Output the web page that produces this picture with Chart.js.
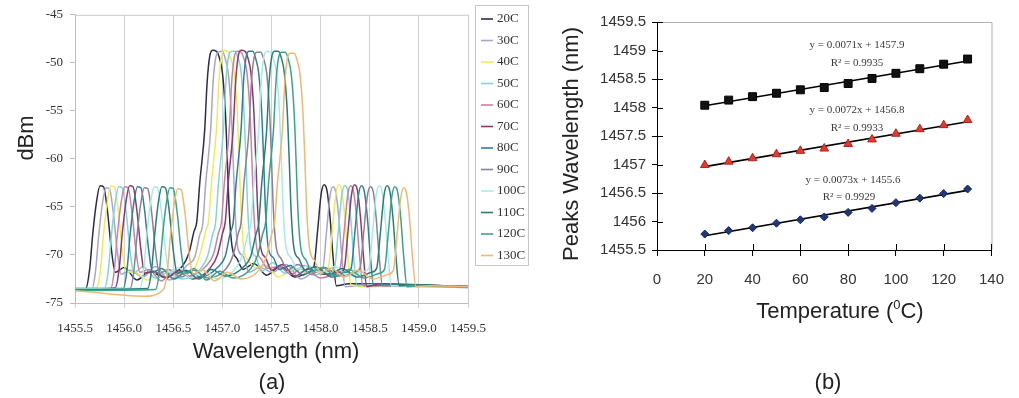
<!DOCTYPE html>
<html><head><meta charset="utf-8">
<script src="https://cdn.jsdelivr.net/npm/chart.js@4.4.1/dist/chart.umd.min.js"></script>
<style>
html,body{margin:0;padding:0;background:#fff;width:1019px;height:398px;overflow:hidden}
#wa{position:absolute;left:0;top:0;width:540px;height:398px}
#wb{position:absolute;left:540px;top:0;width:479px;height:398px}
</style></head><body>
<div id="wa"><canvas id="ca" width="540" height="398"></canvas></div>
<div id="wb"><canvas id="cb" width="479" height="398"></canvas></div>
<script>
// ---------- Panel (b) data ----------
const temps = [20,30,40,50,60,70,80,90,100,110,120,130];
const tempLabels = ['20C','30C','40C','50C','60C','70C','80C','90C','100C','110C','120C','130C'];
const peakShort = [1455.78,1455.84,1455.89,1455.97,1456.03,1456.08,1456.16,1456.23,1456.33,1456.41,1456.49,1456.57];
const peakMain  = [1456.99,1457.05,1457.11,1457.18,1457.24,1457.28,1457.36,1457.44,1457.54,1457.62,1457.69,1457.78];
const peakLong  = [1458.04,1458.13,1458.19,1458.25,1458.31,1458.35,1458.42,1458.51,1458.60,1458.68,1458.76,1458.85];
const eqLong  = ['y = 0.0071x + 1457.9','R\u00B2 = 0.9935'];
const eqMain  = ['y = 0.0072x + 1456.8','R\u00B2 = 0.9933'];
const eqShort = ['y = 0.0073x + 1455.6','R\u00B2 = 0.9929'];

// ---------- Panel (a) spectra (wavelength nm, power dBm) ----------
const wl20 = [1455.5,1455.61,1455.65,1455.68,1455.72,1455.755,1455.79,1455.83,1455.87,1455.91,1456.00,1456.13,1456.26,1456.40,1456.59,1456.66,1456.71,1456.74,1456.77,1456.82,1456.845,1456.87,1456.90,1456.94,1456.97,1457.00,1457.03,1457.05,1457.07,1457.10,1457.15,1457.21,1457.32,1457.45,1457.59,1457.74,1457.88,1457.93,1457.97,1458.005,1458.035,1458.065,1458.095,1458.125,1458.16,1458.29,1459.5];
const db20 = [-73.6,-73.5,-71.4,-67.9,-64.4,-62.8,-62.9,-65.4,-69.4,-71.8,-71.3,-72.6,-71.7,-72.3,-71.2,-69.8,-67.6,-66.5,-62.5,-57.0,-52.0,-49.4,-48.7,-48.8,-49.5,-51.0,-55.0,-60.0,-65.5,-69.2,-70.4,-71.5,-70.9,-72.1,-71.2,-72.3,-71.8,-71.3,-67.4,-63.7,-62.7,-63.3,-66.0,-70.0,-73.2,-73.0,-73.3];
const wl30 = [1455.5,1455.67,1455.71,1455.74,1455.78,1455.815,1455.85,1455.89,1455.93,1455.97,1456.06,1456.19,1456.32,1456.46,1456.65,1456.72,1456.77,1456.80,1456.83,1456.88,1456.905,1456.93,1456.96,1457.00,1457.03,1457.06,1457.09,1457.11,1457.13,1457.16,1457.21,1457.27,1457.38,1457.51,1457.65,1457.80,1457.97,1458.02,1458.06,1458.095,1458.125,1458.155,1458.185,1458.215,1458.25,1458.38,1459.5];
const db30 = [-73.5,-73.6,-71.6,-68.1,-64.6,-63.0,-63.1,-65.6,-69.6,-72.0,-71.6,-72.3,-71.2,-72.6,-71.0,-70.2,-67.9,-66.8,-62.6,-57.1,-52.1,-49.6,-48.9,-48.8,-49.6,-51.1,-55.1,-60.2,-65.6,-69.4,-70.1,-71.8,-71.3,-71.8,-71.0,-72.5,-71.6,-71.5,-67.6,-63.9,-62.9,-63.5,-66.1,-70.1,-73.3,-73.2,-73.4];
const wl40 = [1455.5,1455.72,1455.76,1455.79,1455.83,1455.865,1455.90,1455.94,1455.98,1456.02,1456.11,1456.24,1456.37,1456.51,1456.71,1456.78,1456.83,1456.86,1456.89,1456.94,1456.965,1456.99,1457.02,1457.06,1457.09,1457.12,1457.15,1457.17,1457.19,1457.22,1457.27,1457.33,1457.44,1457.57,1457.71,1457.86,1458.03,1458.08,1458.12,1458.155,1458.185,1458.215,1458.245,1458.275,1458.31,1458.44,1459.5];
const db40 = [-73.7,-73.4,-71.5,-67.9,-64.4,-62.8,-62.9,-65.4,-69.4,-71.7,-71.8,-72.6,-71.4,-72.0,-71.5,-69.6,-67.5,-66.4,-62.4,-56.9,-51.9,-49.4,-48.7,-48.9,-49.7,-51.0,-54.8,-59.9,-65.4,-69.5,-70.6,-71.3,-71.1,-72.3,-71.5,-71.9,-72.0,-71.2,-67.3,-63.7,-62.7,-63.4,-65.9,-69.9,-73.1,-73.3,-73.2];
const wl50 = [1455.5,1455.80,1455.84,1455.87,1455.91,1455.945,1455.98,1456.02,1456.06,1456.10,1456.19,1456.32,1456.45,1456.59,1456.78,1456.85,1456.90,1456.93,1456.96,1457.01,1457.035,1457.06,1457.09,1457.13,1457.16,1457.19,1457.22,1457.24,1457.26,1457.29,1457.34,1457.40,1457.51,1457.64,1457.78,1457.93,1458.09,1458.14,1458.18,1458.215,1458.245,1458.275,1458.305,1458.335,1458.37,1458.50,1459.5];
const db50 = [-73.5,-73.5,-71.5,-68.0,-64.5,-62.9,-63.0,-65.5,-69.5,-71.9,-71.2,-72.4,-71.8,-72.5,-71.4,-70.1,-67.9,-66.7,-62.6,-57.0,-52.1,-49.5,-48.8,-48.8,-49.5,-50.9,-55.1,-60.1,-65.6,-69.3,-70.2,-71.7,-70.8,-71.9,-71.4,-72.1,-71.7,-71.4,-67.5,-63.8,-62.8,-63.3,-66.0,-70.1,-73.2,-73.1,-73.3];
const wl60 = [1455.5,1455.86,1455.90,1455.93,1455.97,1456.005,1456.04,1456.08,1456.12,1456.16,1456.25,1456.38,1456.51,1456.65,1456.84,1456.91,1456.96,1456.99,1457.02,1457.07,1457.095,1457.12,1457.15,1457.19,1457.22,1457.25,1457.28,1457.30,1457.32,1457.35,1457.40,1457.46,1457.57,1457.70,1457.84,1457.99,1458.15,1458.20,1458.24,1458.275,1458.305,1458.335,1458.365,1458.395,1458.43,1458.56,1459.5];
const db60 = [-73.6,-73.6,-71.6,-68.0,-64.5,-62.9,-63.0,-65.6,-69.5,-71.8,-71.5,-72.7,-71.5,-72.2,-71.1,-69.9,-67.7,-66.6,-62.5,-57.0,-52.0,-49.5,-48.8,-48.9,-49.6,-51.0,-55.0,-60.0,-65.5,-69.3,-70.5,-71.4,-71.2,-72.0,-71.1,-72.4,-71.9,-71.3,-67.5,-63.8,-62.8,-63.4,-66.0,-70.0,-73.2,-73.2,-73.2];
const wl70 = [1455.5,1455.91,1455.95,1455.98,1456.02,1456.055,1456.09,1456.13,1456.17,1456.21,1456.30,1456.43,1456.56,1456.70,1456.88,1456.95,1457.00,1457.03,1457.06,1457.11,1457.135,1457.16,1457.19,1457.23,1457.26,1457.29,1457.32,1457.34,1457.36,1457.39,1457.44,1457.50,1457.61,1457.74,1457.88,1458.03,1458.19,1458.24,1458.28,1458.315,1458.345,1458.375,1458.405,1458.435,1458.47,1458.60,1459.5];
const db70 = [-73.6,-73.4,-71.4,-67.9,-64.4,-62.8,-62.9,-65.4,-69.4,-71.9,-71.7,-72.4,-71.6,-72.5,-71.3,-70.0,-67.8,-66.5,-62.4,-56.9,-52.0,-49.4,-48.7,-48.8,-49.5,-51.0,-55.0,-60.0,-65.4,-69.2,-70.3,-71.6,-71.0,-72.2,-71.4,-72.0,-71.8,-71.4,-67.4,-63.7,-62.7,-63.3,-66.0,-70.0,-73.3,-73.0,-73.3];
const wl80 = [1455.5,1455.99,1456.03,1456.06,1456.10,1456.135,1456.17,1456.21,1456.25,1456.29,1456.38,1456.51,1456.64,1456.78,1456.96,1457.03,1457.08,1457.11,1457.14,1457.19,1457.215,1457.24,1457.27,1457.31,1457.34,1457.37,1457.40,1457.42,1457.44,1457.47,1457.52,1457.58,1457.69,1457.82,1457.96,1458.11,1458.26,1458.31,1458.35,1458.385,1458.415,1458.445,1458.475,1458.505,1458.54,1458.67,1459.5];
const db80 = [-73.5,-73.5,-71.5,-68.0,-64.5,-62.9,-63.0,-65.5,-69.5,-71.8,-71.4,-72.5,-71.7,-72.3,-71.2,-70.1,-67.7,-66.6,-62.5,-57.0,-52.0,-49.5,-48.8,-48.8,-49.6,-51.1,-55.1,-60.1,-65.6,-69.4,-70.3,-71.5,-71.1,-72.1,-71.3,-72.3,-71.8,-71.4,-67.5,-63.8,-62.8,-63.4,-66.0,-70.0,-73.2,-73.1,-73.3];
const wl90 = [1455.5,1456.06,1456.10,1456.13,1456.17,1456.205,1456.24,1456.28,1456.32,1456.36,1456.45,1456.58,1456.71,1456.85,1457.04,1457.11,1457.16,1457.19,1457.22,1457.27,1457.295,1457.32,1457.35,1457.39,1457.42,1457.45,1457.48,1457.50,1457.52,1457.55,1457.60,1457.66,1457.77,1457.90,1458.04,1458.19,1458.35,1458.40,1458.44,1458.475,1458.505,1458.535,1458.565,1458.595,1458.63,1458.76,1459.5];
const db90 = [-73.6,-73.5,-71.6,-68.1,-64.6,-63.0,-63.1,-65.6,-69.6,-71.9,-71.5,-72.3,-71.6,-72.4,-71.4,-70.0,-67.8,-66.6,-62.5,-57.1,-52.1,-49.6,-48.9,-48.9,-49.6,-51.0,-55.0,-60.0,-65.5,-69.3,-70.4,-71.6,-71.0,-72.0,-71.3,-72.2,-71.8,-71.4,-67.5,-63.9,-62.9,-63.4,-66.1,-70.1,-73.2,-73.2,-73.3];
const wl100 = [1455.5,1456.16,1456.20,1456.23,1456.27,1456.305,1456.34,1456.38,1456.42,1456.46,1456.55,1456.68,1456.81,1456.95,1457.14,1457.21,1457.26,1457.29,1457.32,1457.37,1457.395,1457.42,1457.45,1457.49,1457.52,1457.55,1457.58,1457.60,1457.62,1457.65,1457.70,1457.76,1457.87,1458.00,1458.14,1458.29,1458.44,1458.49,1458.53,1458.565,1458.595,1458.625,1458.655,1458.685,1458.72,1458.85,1459.5];
const db100 = [-73.5,-73.5,-71.5,-68.0,-64.5,-62.9,-63.0,-65.5,-69.5,-71.8,-71.3,-72.4,-71.6,-72.5,-71.3,-69.9,-67.8,-66.7,-62.5,-57.0,-52.0,-49.5,-48.8,-48.9,-49.6,-51.0,-55.0,-60.0,-65.5,-69.3,-70.3,-71.5,-71.1,-71.9,-71.2,-72.2,-71.7,-71.4,-67.5,-63.8,-62.8,-63.4,-66.0,-70.0,-73.2,-73.2,-73.3];
const wl110 = [1455.5,1456.24,1456.28,1456.31,1456.35,1456.385,1456.42,1456.46,1456.50,1456.54,1456.63,1456.76,1456.89,1457.03,1457.22,1457.29,1457.34,1457.37,1457.40,1457.45,1457.475,1457.50,1457.53,1457.57,1457.60,1457.63,1457.66,1457.68,1457.70,1457.73,1457.78,1457.84,1457.95,1458.08,1458.22,1458.37,1458.52,1458.57,1458.61,1458.645,1458.675,1458.705,1458.735,1458.765,1458.80,1458.93,1459.5];
const db110 = [-73.6,-73.5,-71.5,-68.0,-64.4,-62.9,-63.0,-65.5,-69.5,-71.9,-71.6,-72.5,-71.5,-72.2,-71.2,-70.1,-67.9,-66.7,-62.6,-57.1,-52.1,-49.5,-48.8,-48.8,-49.5,-51.0,-55.0,-60.0,-65.5,-69.4,-70.4,-71.6,-71.2,-72.1,-71.4,-72.3,-71.8,-71.4,-67.5,-63.8,-62.8,-63.4,-66.0,-70.0,-73.2,-73.1,-73.3];
const wl120 = [1455.5,1456.32,1456.36,1456.39,1456.43,1456.465,1456.50,1456.54,1456.58,1456.62,1456.71,1456.84,1456.97,1457.11,1457.29,1457.36,1457.41,1457.44,1457.47,1457.52,1457.545,1457.57,1457.60,1457.64,1457.67,1457.70,1457.73,1457.75,1457.77,1457.80,1457.85,1457.91,1458.02,1458.15,1458.29,1458.44,1458.60,1458.65,1458.69,1458.725,1458.755,1458.785,1458.815,1458.845,1458.88,1459.01,1459.5];
const db120 = [-73.7,-73.6,-71.6,-68.1,-64.6,-63.0,-63.1,-65.6,-69.6,-71.9,-71.4,-72.6,-71.7,-72.4,-71.4,-70.0,-67.8,-66.6,-62.5,-57.0,-52.1,-49.6,-48.9,-48.9,-49.6,-51.1,-55.1,-60.1,-65.6,-69.4,-70.5,-71.7,-71.3,-72.2,-71.5,-72.4,-71.9,-71.5,-67.6,-63.9,-62.9,-63.5,-66.1,-70.1,-73.3,-73.2,-73.3];
const wl130 = [1455.5,1456.20,1456.40,1456.44,1456.47,1456.51,1456.545,1456.58,1456.62,1456.66,1456.70,1456.79,1456.92,1457.05,1457.19,1457.38,1457.45,1457.50,1457.53,1457.56,1457.61,1457.635,1457.66,1457.69,1457.73,1457.76,1457.79,1457.82,1457.84,1457.86,1457.89,1457.94,1458.00,1458.11,1458.24,1458.38,1458.53,1458.69,1458.74,1458.78,1458.815,1458.845,1458.875,1458.905,1458.935,1458.97,1459.10,1459.5];
const db130 = [-73.7,-74.3,-73.6,-71.7,-68.2,-64.7,-63.1,-63.2,-65.7,-69.7,-72.0,-71.5,-72.7,-71.8,-72.5,-71.5,-70.1,-67.9,-66.7,-62.6,-57.1,-52.1,-49.6,-49.0,-49.0,-49.7,-51.2,-55.2,-60.2,-65.7,-69.5,-70.6,-71.8,-71.4,-72.3,-71.6,-72.5,-72.0,-71.6,-67.7,-64.1,-63.0,-63.6,-66.2,-70.2,-73.3,-73.2,-73.3];

const spectraWl = [wl20,wl30,wl40,wl50,wl60,wl70,wl80,wl90,wl100,wl110,wl120,wl130];
const spectraDb = [db20,db30,db40,db50,db60,db70,db80,db90,db100,db110,db120,db130];
const specColors = ['#2a2c48','#aaa4c8','#ecec58','#80d6d6','#cc80a6','#8a3a68','#2e7ea0','#8a8098','#a6eaea','#2c7c78','#3aa486','#f0b870'];

// ---------- Panel (a) ----------
const panelA = {
  id:'panelA',
  afterDraw(chart){
    const {ctx, chartArea:a} = chart;
    ctx.save();
    ctx.strokeStyle='#cacaca'; ctx.lineWidth=1;
    ctx.beginPath(); ctx.moveTo(a.left, a.top+0.5); ctx.lineTo(a.right+0.5, a.top+0.5); ctx.lineTo(a.right+0.5, a.bottom); ctx.stroke();
    ctx.strokeStyle='#c6c6c6';
    ctx.strokeRect(475.5,5.5,53,260);
    ctx.font='13px "Liberation Serif"'; ctx.textBaseline='middle'; ctx.textAlign='left'; ctx.fillStyle='#333';
    tempLabels.forEach((t,i)=>{
      const y = 19 + i*21.5;
      ctx.strokeStyle=specColors[i]; ctx.lineWidth=1.6;
      ctx.beginPath(); ctx.moveTo(481,y); ctx.lineTo(493,y); ctx.stroke();
      ctx.fillText(t,497,y);
    });
    ctx.font='22px "Liberation Sans"'; ctx.fillStyle='#222'; ctx.textAlign='center';
    ctx.fillText('Wavelength (nm)', 276, 352);
    ctx.fillText('(a)', 272, 383);
    ctx.translate(27,138); ctx.rotate(-Math.PI/2); ctx.fillText('dBm',0,0);
    ctx.restore();
  }
};

new Chart(document.getElementById('ca'), {
  type:'line',
  data:{ datasets: spectraWl.map((wl,k)=>({
    label: tempLabels[k],
    data: wl.map((x,i)=>({x:x, y:spectraDb[k][i]})),
    borderColor: specColors[k], borderWidth:1.5, pointRadius:0,
    cubicInterpolationMode:'monotone', fill:false, order: 12-k
  }))},
  options:{
    responsive:false, animation:false, events:[],
    layout:{padding:{left:0,right:72,top:11,bottom:0}},
    plugins:{legend:{display:false}, tooltip:{enabled:false}},
    scales:{
      x:{type:'linear', min:1455.5, max:1459.5,
         ticks:{stepSize:0.5, autoSkip:false, maxRotation:0, callback:v=>Number(v).toFixed(1),
                font:{family:'"Liberation Serif"', size:13}, color:'#333', padding:13},
         grid:{color:'#d2d2d2', lineWidth:1, tickLength:5}, border:{color:'#bdbdbd'},
         afterFit:s=>{s.height=95;}},
      y:{type:'linear', min:-75, max:-45,
         ticks:{stepSize:5, font:{family:'"Liberation Serif"', size:13}, color:'#333', padding:7},
         grid:{drawOnChartArea:false, tickLength:5, color:'#bdbdbd'}, border:{color:'#bdbdbd'},
         afterFit:s=>{s.width=75;}}
    }
  },
  plugins:[panelA]
});

// ---------- Panel (b) ----------
function fit(xs, ys){
  const n=xs.length; let sx=0,sy=0,sxx=0,sxy=0;
  for(let i=0;i<n;i++){sx+=xs[i];sy+=ys[i];sxx+=xs[i]*xs[i];sxy+=xs[i]*ys[i];}
  const b=(n*sxy-sx*sy)/(n*sxx-sx*sx); const a=(sy-b*sx)/n;
  return t=>a+b*t;
}
const seriesB = [
  {vals:peakLong,  style:'rect',     r:5.6, bg:'#111111', bd:'#000000'},
  {vals:peakMain,  style:'triangle', r:5,   bg:'#e23a2e', bd:'#b52019'},
  {vals:peakShort, style:'rectRot',  r:4,   bg:'#22377a', bd:'#142559'}
];
const dsB = [];
seriesB.forEach(s=>{
  const f = fit(temps, s.vals);
  dsB.push({data:[{x:temps[0],y:f(temps[0])},{x:temps[temps.length-1],y:f(temps[temps.length-1])}],
            showLine:true, borderColor:'#000', borderWidth:1.6, pointRadius:0, order:2});
  dsB.push({data:temps.map((t,i)=>({x:t,y:s.vals[i]})), showLine:false,
            pointStyle:s.style, pointRadius:s.r, backgroundColor:s.bg, borderColor:s.bd, borderWidth:1, order:1});
});

const panelB = {
  id:'panelB',
  afterDraw(chart){
    const {ctx, chartArea:a, scales} = chart;
    ctx.save();
    ctx.strokeStyle='#b4b4b4'; ctx.lineWidth=1;
    ctx.beginPath(); ctx.moveTo(a.left, a.top+0.5); ctx.lineTo(a.right+0.5, a.top+0.5); ctx.lineTo(a.right+0.5, a.bottom); ctx.stroke();
    ctx.strokeStyle='#000';
    ctx.beginPath();
    scales.x.ticks.forEach(t=>{ const px=Math.round(scales.x.getPixelForValue(t.value))+0.5; if(px>a.left+2){ctx.moveTo(px,a.bottom); ctx.lineTo(px,a.bottom-6);} });
    scales.y.ticks.forEach(t=>{ const py=Math.round(scales.y.getPixelForValue(t.value))+0.5; ctx.moveTo(a.left,py); ctx.lineTo(a.left+6,py); });
    ctx.stroke();
    ctx.font='11px "Liberation Serif"'; ctx.fillStyle='#3a3a3a'; ctx.textAlign='center'; ctx.textBaseline='middle';
    ctx.fillText(eqLong[0], 317, 45);  ctx.fillText(eqLong[1], 317, 63);
    ctx.fillText(eqMain[0], 317, 110); ctx.fillText(eqMain[1], 317, 128);
    ctx.fillText(eqShort[0], 313, 180); ctx.fillText(eqShort[1], 309, 197);
    ctx.fillStyle='#222'; ctx.font='22px "Liberation Sans"';
    const p1='Temperature (', p2='0', p3='C)';
    const w1=ctx.measureText(p1).width, w3=ctx.measureText(p3).width;
    ctx.font='13px "Liberation Sans"'; const w2=ctx.measureText(p2).width;
    const total=w1+w2+w3; let x0=300-total/2;
    ctx.textAlign='left';
    ctx.font='22px "Liberation Sans"'; ctx.fillText(p1,x0,312);
    ctx.font='13px "Liberation Sans"'; ctx.fillText(p2,x0+w1,305);
    ctx.font='22px "Liberation Sans"'; ctx.fillText(p3,x0+w1+w2,312);
    ctx.textAlign='center';
    ctx.fillText('(b)', 288, 383);
    ctx.translate(32,144); ctx.rotate(-Math.PI/2); ctx.fillText('Peaks Wavelength (nm)',0,0);
    ctx.restore();
  }
};

new Chart(document.getElementById('cb'), {
  type:'scatter',
  data:{datasets:dsB},
  options:{
    responsive:false, animation:false, events:[],
    layout:{padding:{left:0,right:15,top:22,bottom:0}},
    plugins:{legend:{display:false}, tooltip:{enabled:false}},
    scales:{
      x:{type:'linear', min:0, max:140,
         ticks:{stepSize:20, font:{family:'"Liberation Sans"', size:15}, color:'#333', padding:15, maxRotation:0},
         grid:{drawOnChartArea:false, tickLength:6, color:'#000'}, border:{color:'#000'},
         afterFit:s=>{s.height=148;}},
      y:{type:'linear', min:1455.5, max:1459.5,
         ticks:{stepSize:0.5, callback:v=>String(v), font:{family:'"Liberation Sans"', size:15}, color:'#333', padding:6},
         grid:{drawOnChartArea:false, tickLength:5, color:'#000'}, border:{color:'#000'},
         afterFit:s=>{s.width=117;}}
    }
  },
  plugins:[panelB]
});
</script>
</body></html>
